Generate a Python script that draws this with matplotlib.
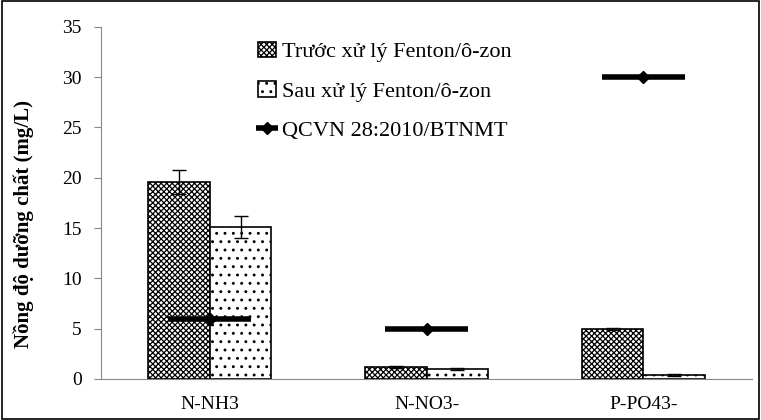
import numpy as np
import matplotlib.pyplot as plt
from matplotlib.patches import Rectangle

# data
categories = ['N-NH3', 'N-NO3-', 'P-PO43-']
truoc = [19.6, 1.2, 5.0]
truoc_err = [1.2, 0.1, 0.1]
sau = [15.1, 1.0, 0.4]
sau_err = [1.1, 0.1, 0.1]
qcvn = [6, 5, 30]

plt.rcParams['font.family'] = ['Liberation Serif', 'DejaVu Serif']
plt.rcParams['hatch.linewidth'] = 0.9

fig = plt.figure(figsize=(7.61, 4.2), dpi=100)
ax = fig.add_axes([0.133, 0.098, 0.855, 0.838])

x = np.arange(len(categories))
w = 0.285
ax.bar(x - w/2, truoc, w, color='white', edgecolor='black', hatch='xxxxxx', lw=1.2,
       yerr=truoc_err, capsize=5, error_kw=dict(lw=1, capthick=1),
       label='Trước xử lý Fenton/ô-zon')
ax.bar(x + w/2, sau, w, color='white', edgecolor='black', hatch='..', lw=1.2,
       yerr=sau_err, capsize=5, error_kw=dict(lw=1, capthick=1),
       label='Sau xử lý Fenton/ô-zon')
ax.errorbar(x, qcvn, xerr=0.19, fmt='D', color='black', ms=6, elinewidth=4,
            capsize=0, label='QCVN 28:2010/BTNMT')

ax.set_xlim(-0.5, 2.5)
ax.set_ylim(0, 35)
ax.set_yticks(range(0, 36, 5))
ax.set_xticks(x)
ax.set_xticklabels(categories, fontsize=14)
ax.tick_params(axis='x', length=0, pad=12)
ax.tick_params(axis='y', labelsize=14, color='#888888', length=5, pad=9)
for s in ['top', 'right']:
    ax.spines[s].set_visible(False)
for s in ['left', 'bottom']:
    ax.spines[s].set_color('#888888')
ax.set_ylabel('Nồng độ dưỡng chất (mg/L)', fontsize=15, fontweight='bold')
ax.yaxis.set_label_coords(-0.103, 0.44)

ax.legend(loc='upper left', bbox_to_anchor=(0.21, 1.015), frameon=False, fontsize=16,
          labelspacing=0.85, handlelength=0.8, handletextpad=0.3)

fig.patches.append(Rectangle((0.002, 0.003), 0.996, 0.994, transform=fig.transFigure,
                             fill=False, edgecolor='black', lw=1.2))
fig.savefig('out.png', dpi=100)
